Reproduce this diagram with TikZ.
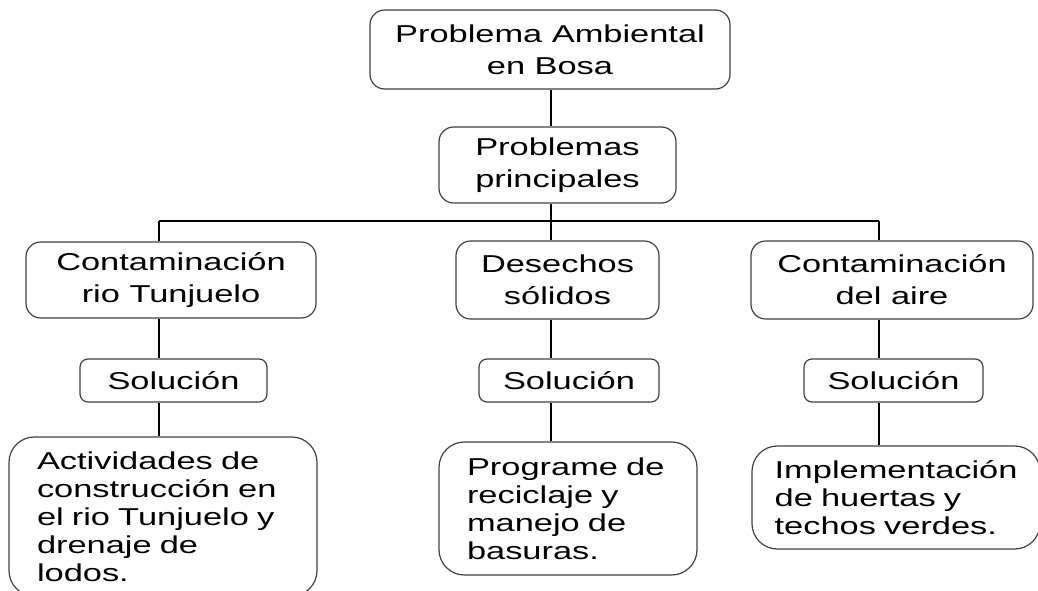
\documentclass[tikz,border=0pt]{standalone}
\usepackage{fontspec}
\setmainfont{Liberation Sans}[FakeStretch=1.41]
\usepackage{tikz}

\begin{document}
\begin{tikzpicture}[x=0.75pt,y=-0.75pt,line width=0.9pt,
  caja/.style={draw=black!75,rounded corners=11pt,align=center,inner sep=0pt,font=\fontsize{18.3}{24}\selectfont},
  sol/.style={caja,rounded corners=6pt,minimum height=32.25pt},
  texto/.style={caja,rounded corners=19pt,align=left,inner xsep=21pt,font=\fontsize{18.3}{21}\selectfont}]
\useasboundingbox(0,0)rectangle(1038,591);
\node[caja,minimum width=270pt,minimum height=59.25pt](amb)at(550,49.5){Problema Ambiental\\en Bosa};
\node[caja,minimum width=177.75pt,minimum height=57pt](prin)at(557.5,165){Problemas\\principales};
\node[caja,minimum width=217.5pt,minimum height=57pt](rio)at(171,280){Contaminación\\rio Tunjuelo};
\node[caja,minimum width=152.25pt,minimum height=58.5pt](des)at(557.5,280){Desechos\\sólidos};
\node[caja,minimum width=211.5pt,minimum height=58.5pt](aire)at(892,280){Contaminación\\del aire};
\node[sol,minimum width=140.25pt](sol1)at(173.5,380.5){Solución};
\node[sol,minimum width=135pt](sol2)at(569,380.5){Solución};
\node[sol,minimum width=134.25pt](sol3)at(893.5,380.5){Solución};
\node[texto,text width=189pt,minimum width=231pt,minimum height=119.25pt](act1)at(163,516.5){Actividades de\\construcción en\\el rio Tunjuelo y\\drenaje de\\lodos.};
\node[texto,text width=151.5pt,minimum width=193.5pt,minimum height=99.75pt](act2)at(568,508.5){Programe de\\reciclaje y\\manejo de\\basuras.};
\node[texto,text width=182pt,inner xsep=17pt,minimum width=216pt,minimum height=77.25pt](act3)at(896,497.5){Implementación\\de huertas y\\techos verdes.};
\coordinate(c1)at(159,221);
\coordinate(c2)at(551,221);
\coordinate(c3)at(879,221);
\draw(amb.south -| c2)--(prin.north -| c2);
\draw(prin.south -| c2)--(c2);
\draw(c1)--(c3);
\foreach \c/\a/\s/\b in {c1/rio/sol1/act1,c2/des/sol2/act2,c3/aire/sol3/act3}{
  \draw(\c)--(\a.north -| \c) (\a.south -| \c)--(\s.north -| \c) (\s.south -| \c)--(\b.north -| \c);
}
\end{tikzpicture}
\end{document}
